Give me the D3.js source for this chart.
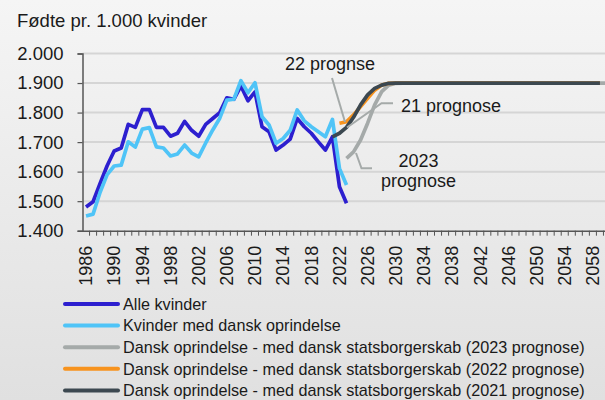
<!DOCTYPE html>
<html>
<head>
<meta charset="utf-8">
<script src="https://cdn.jsdelivr.net/npm/d3@7"></script>
<style>
  html, body { margin: 0; padding: 0; background: #e6e6e6; }
  #chart { width: 605px; height: 400px; overflow: hidden; }
  text { font-family: "Liberation Sans", Arial, sans-serif; fill: #1a1a1a; }
</style>
</head>
<body>
<div id="chart"></div>
<script>
// years on the category axis
var years = d3.range(1986, 2063);
var tickYears = d3.range(1986, 2059, 4);
var yTicks = [1400, 1500, 1600, 1700, 1800, 1900, 2000];

// observed series, 1986-2023
var histYears = d3.range(1986, 2024);
var alleKvinder = [1480, 1498, 1560, 1620, 1670, 1680, 1760, 1750, 1810, 1810,
                   1750, 1750, 1720, 1730, 1770, 1740, 1720, 1760, 1780, 1800,
                   1850, 1845, 1890, 1840, 1870, 1752, 1735, 1673, 1690, 1710,
                   1780, 1752, 1730, 1701, 1673, 1718, 1549, 1493];
var danskOprindelse = [1450, 1456, 1530, 1590, 1619, 1622, 1701, 1683, 1744, 1749,
                       1684, 1680, 1653, 1660, 1690, 1663, 1650, 1697, 1741, 1781,
                       1842, 1845, 1908, 1867, 1901, 1786, 1758, 1696, 1712, 1740,
                       1809, 1772, 1752, 1735, 1718, 1777, 1611, 1555];

// forecasts [year, value]
var prognose2023 = [[2023, 1645], [2024, 1667], [2025, 1707], [2026, 1764], [2027, 1826],
                    [2028, 1871], [2029, 1893], [2030, 1899], [2031, 1900], [2062, 1900]];
var prognose2022 = [[2022, 1764], [2023, 1769], [2024, 1792], [2025, 1820], [2026, 1848],
                    [2027, 1876], [2028, 1893], [2029, 1899], [2030, 1900], [2059, 1900]];
var prognose2021 = [[2021, 1718], [2022, 1730], [2023, 1750], [2024, 1784], [2025, 1826],
                    [2026, 1860], [2027, 1882], [2028, 1893], [2029, 1899], [2030, 1900], [2059, 1900]];

var legendLabels = ["Alle kvinder",
                    "Kvinder med dansk oprindelse",
                    "Dansk oprindelse - med dansk statsborgerskab (2023 prognose)",
                    "Dansk oprindelse - med dansk statsborgerskab (2022 prognose)",
                    "Dansk oprindelse - med dansk statsborgerskab (2021 prognose)"];
var colors = ["#2d1fcf", "#4fc4f7", "#a5aaa9", "#f7931e", "#3c4850"];

var width = 605, height = 400;

var svg = d3.select("#chart").append("svg")
    .attr("width", width)
    .attr("height", height);

var grad = svg.append("defs").append("linearGradient")
    .attr("id", "bg")
    .attr("x1", 0).attr("y1", 0).attr("x2", 0).attr("y2", 1);
grad.append("stop").attr("offset", "0%").attr("stop-color", "#f5f5f5");
grad.append("stop").attr("offset", "100%").attr("stop-color", "#e0e0e0");

svg.append("rect")
    .attr("width", width).attr("height", height)
    .attr("fill", "url(#bg)");

var x = d3.scaleBand()
    .domain(years)
    .range([82.5, 82.5 + years.length * 7.04])
    .padding(0);

var cx = function(yr) { return x(yr) + x.bandwidth() / 2; };

var y = d3.scaleLinear()
    .domain([1400, 2000])
    .range([230.7, 53.5]);

var da = d3.formatLocale({decimal: ",", thousands: ".", grouping: [3], currency: ["", " kr."]});
var fmt = da.format(",.0f");

// gridlines
svg.append("g")
    .selectAll("line")
    .data(yTicks.slice(1))
    .join("line")
    .attr("x1", x.range()[0])
    .attr("x2", width)
    .attr("y1", d => y(d))
    .attr("y2", d => y(d))
    .attr("stroke", "#d5d5d5")
    .attr("stroke-width", 2);

// y axis
var yAxis = svg.append("g")
    .attr("transform", "translate(" + x.range()[0] + ",0)")
    .call(d3.axisLeft(y).tickValues(yTicks).tickFormat(fmt).tickSize(5).tickPadding(14));
yAxis.select(".domain").attr("stroke", "#555").attr("stroke-width", 1.5);
yAxis.selectAll(".tick line").attr("stroke", "#555").attr("stroke-width", 1.2);
yAxis.selectAll("text")
    .style("font-size", "18.5px")
    .attr("fill", "#1a1a1a");

// x axis
var xAxis = svg.append("g")
    .attr("transform", "translate(0," + y(1400) + ")")
    .call(d3.axisBottom(x).tickValues(tickYears).tickSize(0).tickPadding(0));
xAxis.select(".domain").attr("stroke", "#555").attr("stroke-width", 1.5);
xAxis.selectAll("text")
    .style("font-size", "18px")
    .attr("fill", "#1a1a1a")
    .attr("text-anchor", "end")
    .attr("dy", "0.35em")
    .attr("transform", "translate(0,15) rotate(-90)");

// category tick marks
svg.append("g")
    .selectAll("line")
    .data(years)
    .join("line")
    .attr("x1", d => x(d) + x.bandwidth())
    .attr("x2", d => x(d) + x.bandwidth())
    .attr("y1", y(1400))
    .attr("y2", y(1400) + 5)
    .attr("stroke", "#555")
    .attr("stroke-width", 1);

var line = d3.line()
    .x(d => cx(d[0]))
    .y(d => y(d[1]));

var series = [
    {data: histYears.map((yr, i) => [yr, alleKvinder[i]]), color: colors[0]},
    {data: histYears.map((yr, i) => [yr, danskOprindelse[i]]), color: colors[1]},
    {data: prognose2023, color: colors[2]},
    {data: prognose2022, color: colors[3]},
    {data: prognose2021, color: colors[4]}
];

svg.append("g")
    .selectAll("path")
    .data(series)
    .join("path")
    .attr("d", d => line(d.data))
    .attr("fill", "none")
    .attr("stroke", d => d.color)
    .attr("stroke-width", 3.7)
    .attr("stroke-linejoin", "round");

// annotations
var notes = svg.append("g");
notes.selectAll("path")
    .data([
        [[332, 78], [345, 122]],
        [[393, 103.3], [381.5, 103.3], [347, 127.5]],
        [[356, 153], [361.5, 168.3], [372, 168.3]]
    ])
    .join("path")
    .attr("d", d => d3.line()(d))
    .attr("fill", "none")
    .attr("stroke", "#a5aaa9")
    .attr("stroke-width", 2);

notes.append("text").attr("x", 285).attr("y", 70).style("font-size", "18px").text("22 prognse");
notes.append("text").attr("x", 401).attr("y", 111.5).style("font-size", "18px").text("21 prognose");
notes.append("text").attr("x", 418.5).attr("y", 166.5).attr("text-anchor", "middle").style("font-size", "18px").text("2023");
notes.append("text").attr("x", 418.5).attr("y", 186.5).attr("text-anchor", "middle").style("font-size", "18px").text("prognose");

// title
svg.append("text")
    .attr("x", 17)
    .attr("y", 27)
    .style("font-size", "18.5px")
    .text("Fødte pr. 1.000 kvinder");

// legend
var legend = svg.append("g")
    .selectAll("g")
    .data(legendLabels)
    .join("g")
    .attr("transform", (d, i) => "translate(65," + (304 + i * 21.6) + ")");
legend.append("line")
    .attr("x1", 0).attr("x2", 53)
    .attr("stroke", (d, i) => colors[i])
    .attr("stroke-width", 4)
    .attr("stroke-linecap", "round");
legend.append("text")
    .attr("x", 58)
    .attr("dy", "0.36em")
    .style("font-size", "16.2px")
    .text(d => d);
</script>
</body>
</html>
